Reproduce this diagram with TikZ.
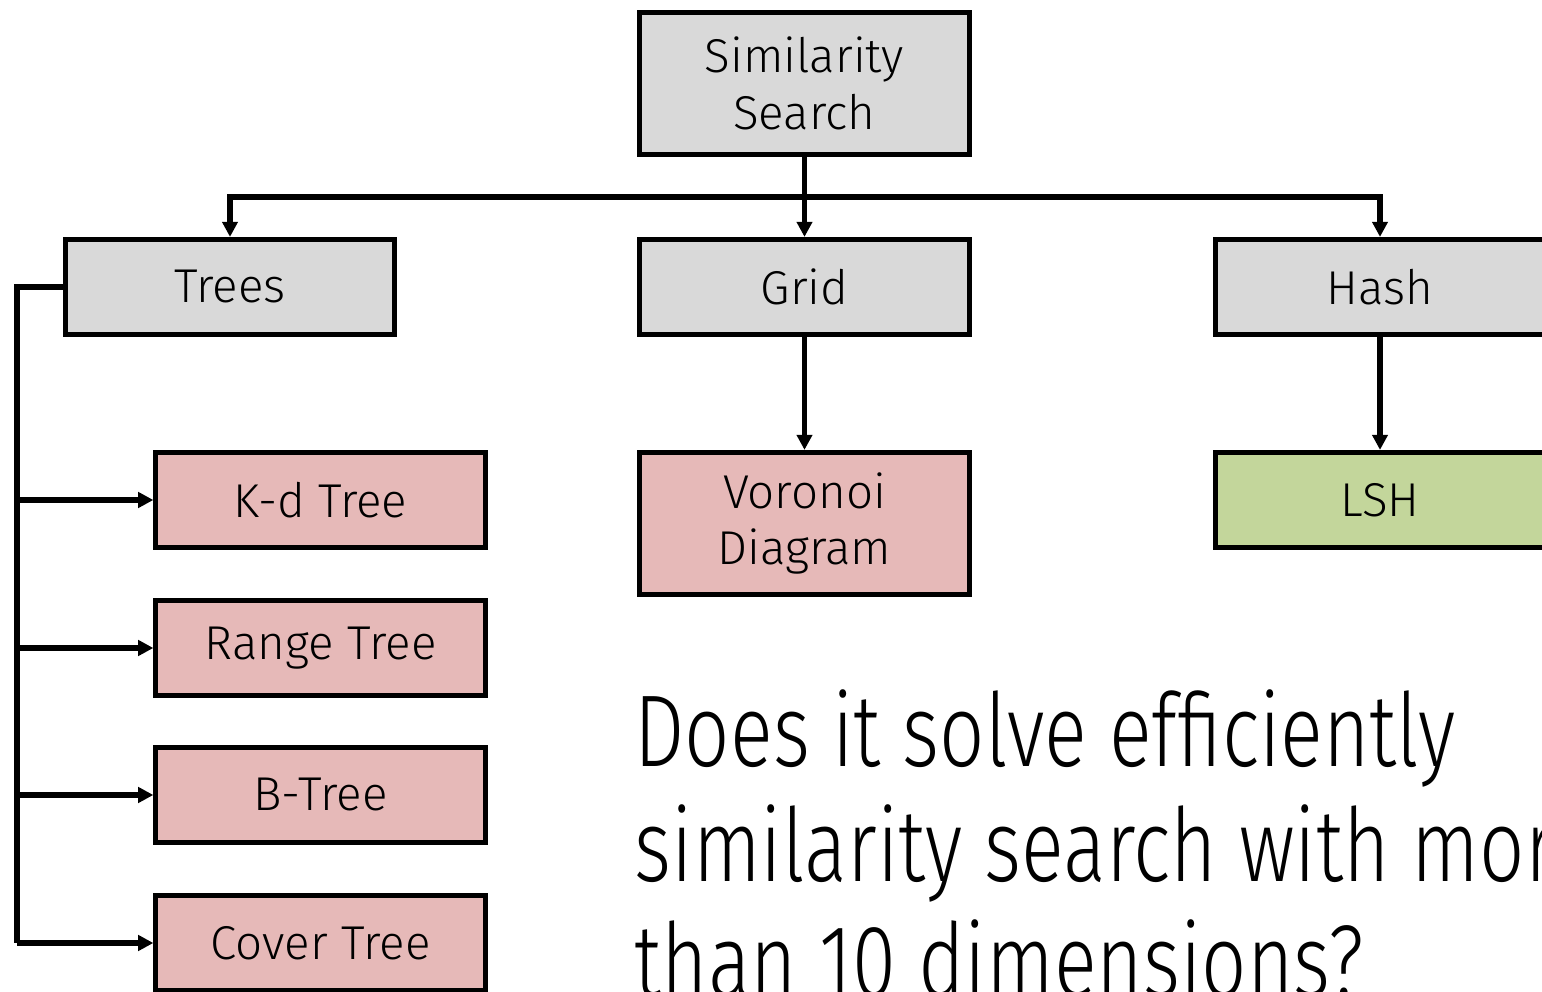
\documentclass[tikz,border=0pt]{standalone}
\usepackage{fontspec}
\setmainfont{Fira Sans Light}
\usetikzlibrary{arrows.meta}
\definecolor{boxgrey}{HTML}{D9D9D9}
\definecolor{boxpink}{HTML}{E6B9B8}
\definecolor{boxgreen}{HTML}{C3D69B}
\tikzset{
  box/.style = {rectangle, draw=black, line width=1.45pt, align=center,
    inner sep=0pt, minimum width=3.29cm, minimum height=0.95cm,
    font=\fontsize{13.5}{16}\selectfont},
  family/.style = {box, fill=boxgrey},% grey: families of methods
  slow/.style = {box, fill=boxpink},% red: breaks down in high dimension
  fast/.style = {box, fill=boxgreen},% green: still works
  tall/.style = {minimum height=1.42cm},
  wire/.style = {line width=1.45pt},
  link/.style = {wire, -{Triangle[length=4.3pt,width=4.3pt]}}
}

\begin{document}
\begin{tikzpicture}[x=0.01cm, y=-0.01cm]
\path[use as bounding box] (0,0) rectangle (1542,992);
\clip (0,0) rectangle (1542,992);

% root and first level
\node [family, tall] (sim) at (804.5,83.5) {Similarity\\Search};
\node [family] (trees) at (230,287) {Trees};
\node [family] (grid) at (804.5,287) {Grid};
\node [family] (hash) at (1380,287) {Hash};

% methods
\node [slow] (kd) at (320.5,500) {K-d Tree};
\node [slow] (range) at (320.5,648) {Range Tree};
\node [slow] (btree) at (320.5,795) {B-Tree};
\node [slow] (cover) at (320.5,943) {Cover Tree};
\node [slow, tall] (voronoi) at (804.5,523.5) {Voronoi\\Diagram};
\node [fast] (lsh) at (1380,500) {LSH};

\coordinate (split) at (804.5,197);
\coordinate (spine) at (17,287);

\draw [link] (sim.south) -- (grid.north);
\draw [link] (split) -| (trees.north);
\draw [link] (split) -| (hash.north);
\draw [link] (grid.south) -- (voronoi.north);
\draw [link] (hash.south) -- (lsh.north);

% tree structures hang off a spine on the left
\draw [wire] (trees.west) -- (spine) -- (spine |- cover.west);
\foreach \n in {kd, range, btree, cover}
  \draw [link] (spine |- \n.west) -- (\n.west);

\node [anchor=base west, inner sep=0pt] (question) at (634,767)
  {\scalebox{0.78}[1]{\fontsize{29}{32.7}\selectfont
   \begin{tabular}[t]{@{}l@{}}
   Does it solve efficiently\\
   similarity search with more\\
   than 10 dimensions?
   \end{tabular}}};
\end{tikzpicture}
\end{document}
